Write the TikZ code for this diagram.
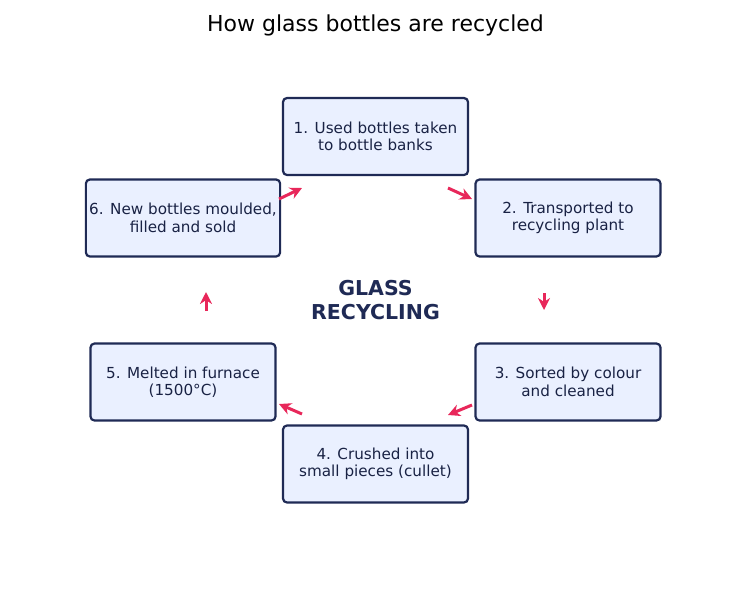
\documentclass[tikz,border=0pt]{standalone}
\usepackage{fontspec}
\setmainfont{DejaVu Sans}
\usetikzlibrary{arrows.meta}
\definecolor{navy}{HTML}{1F2A55}
\definecolor{boxfill}{HTML}{EAF0FF}
\definecolor{arr}{HTML}{E8275A}
\begin{document}
\begin{tikzpicture}[x=1pt,y=-1pt,
  stepbox/.style={draw=navy,line width=2.2pt,fill=boxfill,rounded corners=4pt,minimum width=185pt,minimum height=77pt,align=center,font=\fontsize{15.2}{17.5}\selectfont,text=navy!80!black},
  flow/.style={draw=arr,line width=3pt,-{Stealth[length=12pt,width=12pt]}}]
\useasboundingbox (0,0) rectangle (751,603);
\node[font=\fontsize{22}{26}\selectfont] (t) at (375.5,25) {How glass bottles are recycled};
\node[stepbox] (b1) at (375.5,136.5) {1. Used bottles taken\\to bottle banks};
\node[stepbox] (b2) at (568,218) {2. Transported to\\recycling plant};
\node[stepbox] (b3) at (568,382) {3. Sorted by colour\\and cleaned};
\node[stepbox] (b4) at (375.5,464) {4. Crushed into\\small pieces (cullet)};
\node[stepbox] (b5) at (183,382) {5. Melted in furnace\\(1500°C)};
\node[stepbox] (b6) at (183,218) {6. New bottles moulded,\\filled and sold};
\node[font=\bfseries\fontsize{20.5}{23.5}\selectfont,text=navy,align=center] (c) at (375.5,300) {GLASS\\RECYCLING};
\coordinate (a1s) at (448,188); \coordinate (a1e) at (472,199);
\coordinate (a2s) at (544,293); \coordinate (a2e) at (544,310);
\coordinate (a3s) at (472,405); \coordinate (a3e) at (448,415);
\coordinate (a4s) at (302,414); \coordinate (a4e) at (279,404);
\coordinate (a5s) at (206,311); \coordinate (a5e) at (206,292);
\coordinate (a6s) at (279,199); \coordinate (a6e) at (302,188);
\draw[flow] (a1s) -- (a1e);
\draw[flow] (a2s) -- (a2e);
\draw[flow] (a3s) -- (a3e);
\draw[flow] (a4s) -- (a4e);
\draw[flow] (a5s) -- (a5e);
\draw[flow] (a6s) -- (a6e);
\end{tikzpicture}
\end{document}
